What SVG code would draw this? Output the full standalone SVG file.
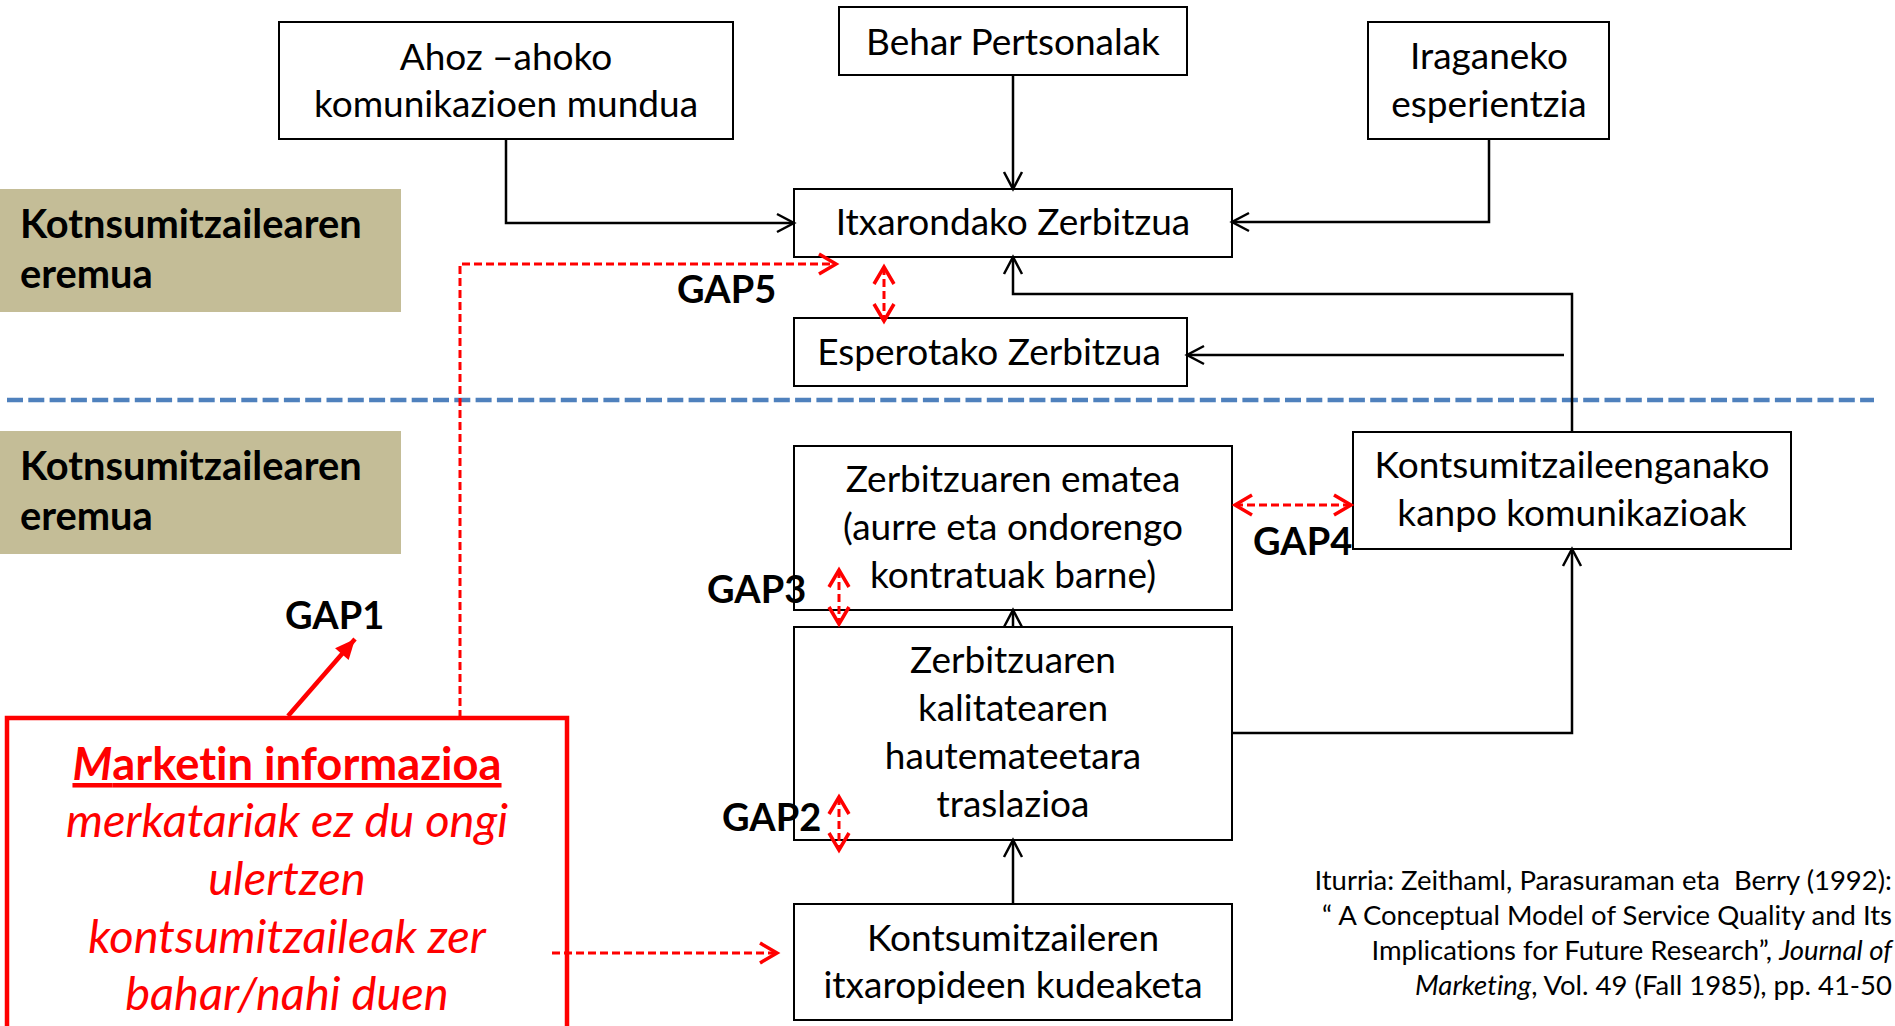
<svg xmlns="http://www.w3.org/2000/svg" width="1895" height="1026" viewBox="0 0 1895 1026">
  <style>
    text { font-variant-ligatures: none; }
    .box { fill: #FFFFFF; stroke: #000000; stroke-width: 2; }
    .zone { fill: #C4BD97; }
    .t { font-family: Lato, "Open Sans", sans-serif; font-size: 37px; fill: #000000; text-anchor: middle; }
    .zt { font-family: Lato, "Open Sans", sans-serif; font-size: 39.8px; font-weight: bold; fill: #000000; }
    .gap { font-family: Lato, "Open Sans", sans-serif; font-size: 38px; font-weight: bold; fill: #000000; }
    .red { font-family: Lato, "Open Sans", sans-serif; font-size: 47px; fill: #FF0000; text-anchor: middle; }
    .red.head { font-size: 45.3px; font-weight: bold; text-decoration: underline; }
    .cite { font-family: Lato, "Open Sans", sans-serif; font-size: 27.5px; fill: #000000; text-anchor: end; white-space: pre; }
    .conn { fill: none; stroke: #000000; stroke-width: 2.5; }
    .rdash { fill: none; stroke: #FF0000; stroke-width: 3; stroke-dasharray: 8 4; }
  </style>
  <defs>
    <marker id="openArrow" markerUnits="userSpaceOnUse" markerWidth="24" markerHeight="24" viewBox="-20 -12 24 24" refX="0" refY="0" orient="auto-start-reverse">
      <path d="M-17,-9 L0,0 L-17,9" fill="none" stroke="#000000" stroke-width="2.5"/>
    </marker>
    <marker id="redOpen" markerUnits="userSpaceOnUse" markerWidth="26" markerHeight="26" viewBox="-22 -13 26 26" refX="0" refY="0" orient="auto-start-reverse">
      <path d="M-17,-10 L0,0 L-17,10" fill="none" stroke="#FF0000" stroke-width="3.5"/>
    </marker>
    <marker id="redSolid" markerUnits="userSpaceOnUse" markerWidth="30" markerHeight="30" viewBox="-24 -15 30 30" refX="0" refY="0" orient="auto">
      <path d="M-20,-9 L0,0 L-20,9 Z" fill="#FF0000"/>
    </marker>
  </defs>

  <!-- zone labels -->
  <g id="zone-top">
    <rect class="zone" x="0" y="189" width="401" height="123"/>
    <text class="zt" x="20" y="238">Kotnsumitzailearen</text>
    <text class="zt" x="20" y="288">eremua</text>
  </g>
  <g id="zone-bottom">
    <rect class="zone" x="0" y="431" width="401" height="123"/>
    <text class="zt" x="20" y="480">Kotnsumitzailearen</text>
    <text class="zt" x="20" y="530">eremua</text>
  </g>

  <!-- boundary line -->
  <line x1="7" y1="400" x2="1874" y2="400" stroke="#4F81BD" stroke-width="4.5" stroke-dasharray="16 5.3"/>

  <!-- nodes -->
  <g id="node-ahoz">
    <rect class="box" x="279" y="22" width="454" height="117"/>
    <text class="t" x="506" y="70">Ahoz –ahoko</text>
    <text class="t" x="506" y="117">komunikazioen mundua</text>
  </g>
  <g id="node-behar">
    <rect class="box" x="839" y="7" width="348" height="68"/>
    <text class="t" x="1013" y="55">Behar Pertsonalak</text>
  </g>
  <g id="node-iraganeko">
    <rect class="box" x="1368" y="22" width="241" height="117"/>
    <text class="t" x="1489" y="69">Iraganeko</text>
    <text class="t" x="1489" y="117">esperientzia</text>
  </g>
  <g id="node-itxarondako">
    <rect class="box" x="794" y="189" width="438" height="68"/>
    <text class="t" x="1013" y="235">Itxarondako Zerbitzua</text>
  </g>
  <g id="node-esperotako">
    <rect class="box" x="794" y="318" width="393" height="68"/>
    <text class="t" x="989" y="365">Esperotako Zerbitzua</text>
  </g>
  <g id="node-ematea">
    <rect class="box" x="794" y="446" width="438" height="164"/>
    <text class="t" x="1013" y="492">Zerbitzuaren ematea</text>
    <text class="t" x="1013" y="540">(aurre eta ondorengo</text>
    <text class="t" x="1013" y="588">kontratuak barne)</text>
  </g>
  <g id="node-kalitatea">
    <rect class="box" x="794" y="627" width="438" height="213"/>
    <text class="t" x="1013" y="673">Zerbitzuaren</text>
    <text class="t" x="1013" y="721">kalitatearen</text>
    <text class="t" x="1013" y="769">hautemateetara</text>
    <text class="t" x="1013" y="817">traslazioa</text>
  </g>
  <g id="node-kudeaketa">
    <rect class="box" x="794" y="904" width="438" height="116"/>
    <text class="t" x="1013" y="951">Kontsumitzaileren</text>
    <text class="t" x="1013" y="998">itxaropideen kudeaketa</text>
  </g>
  <g id="node-kanpo">
    <rect class="box" x="1353" y="432" width="438" height="117"/>
    <text class="t" x="1572" y="478">Kontsumitzaileenganako</text>
    <text class="t" x="1572" y="526">kanpo komunikazioak</text>
  </g>
  <g id="node-marketin">
    <rect x="7" y="718" width="560" height="400" fill="none" stroke="#FF0000" stroke-width="4.5"/>
    <text class="red head" x="287" y="780"><tspan font-style="italic">M</tspan>arketin informazioa</text>
    <text class="red" x="287" y="837" font-style="italic">merkatariak ez du ongi</text>
    <text class="red" x="287" y="895" font-style="italic">ulertzen</text>
    <text class="red" x="287" y="953" font-style="italic">kontsumitzaileak zer</text>
    <text class="red" x="287" y="1010" font-style="italic">bahar/nahi duen</text>
  </g>

  <!-- connectors -->
  <g id="connectors">
    <polyline class="conn" points="506,139 506,223 794,223" marker-end="url(#openArrow)"/>
    <line class="conn" x1="1013" y1="75" x2="1013" y2="189" marker-end="url(#openArrow)"/>
    <polyline class="conn" points="1489,139 1489,222 1232,222" marker-end="url(#openArrow)"/>
    <polyline class="conn" points="1572,432 1572,294 1013,294 1013,257" marker-end="url(#openArrow)"/>
    <line class="conn" x1="1564" y1="355" x2="1187" y2="355" marker-end="url(#openArrow)"/>
    <line class="conn" x1="1013" y1="904" x2="1013" y2="840" marker-end="url(#openArrow)"/>
    <line class="conn" x1="1013" y1="627" x2="1013" y2="610" marker-end="url(#openArrow)"/>
    <polyline class="conn" points="1232,733 1572,733 1572,549" marker-end="url(#openArrow)"/>

    <!-- gap connectors -->
    <polyline class="rdash" points="460,718 460,264 836,264" marker-end="url(#redOpen)"/>
    <line class="rdash" x1="552" y1="953" x2="777" y2="953" marker-end="url(#redOpen)"/>
    <line class="rdash" x1="884" y1="267" x2="884" y2="321" marker-start="url(#redOpen)" marker-end="url(#redOpen)"/>
    <line class="rdash" x1="1235" y1="505" x2="1351" y2="505" marker-start="url(#redOpen)" marker-end="url(#redOpen)"/>
    <line class="rdash" x1="839" y1="570" x2="839" y2="624" marker-start="url(#redOpen)" marker-end="url(#redOpen)"/>
    <line class="rdash" x1="839" y1="797" x2="839" y2="850" marker-start="url(#redOpen)" marker-end="url(#redOpen)"/>
    <line x1="288" y1="716" x2="355" y2="639" stroke="#FF0000" stroke-width="4.5" marker-end="url(#redSolid)"/>
  </g>

  <!-- gap labels -->
  <g id="gap-labels">
    <text class="gap" x="677" y="303">GAP5</text>
    <text class="gap" x="1253" y="555">GAP4</text>
    <text class="gap" x="707" y="603">GAP3</text>
    <text class="gap" x="722" y="831">GAP2</text>
    <text class="gap" x="285" y="629">GAP1</text>
  </g>

  <!-- source note -->
  <g id="source">
    <text class="cite" x="1892" y="890">Iturria: Zeithaml, Parasuraman eta  Berry (1992):</text>
    <text class="cite" x="1892" y="925">“ A Conceptual Model of Service Quality and Its</text>
    <text class="cite" x="1892" y="960">Implications for Future Research”, <tspan font-style="italic">Journal of</tspan></text>
    <text class="cite" x="1892" y="995"><tspan font-style="italic">Marketing</tspan>, Vol. 49 (Fall 1985), pp. 41-50</text>
  </g>
</svg>
